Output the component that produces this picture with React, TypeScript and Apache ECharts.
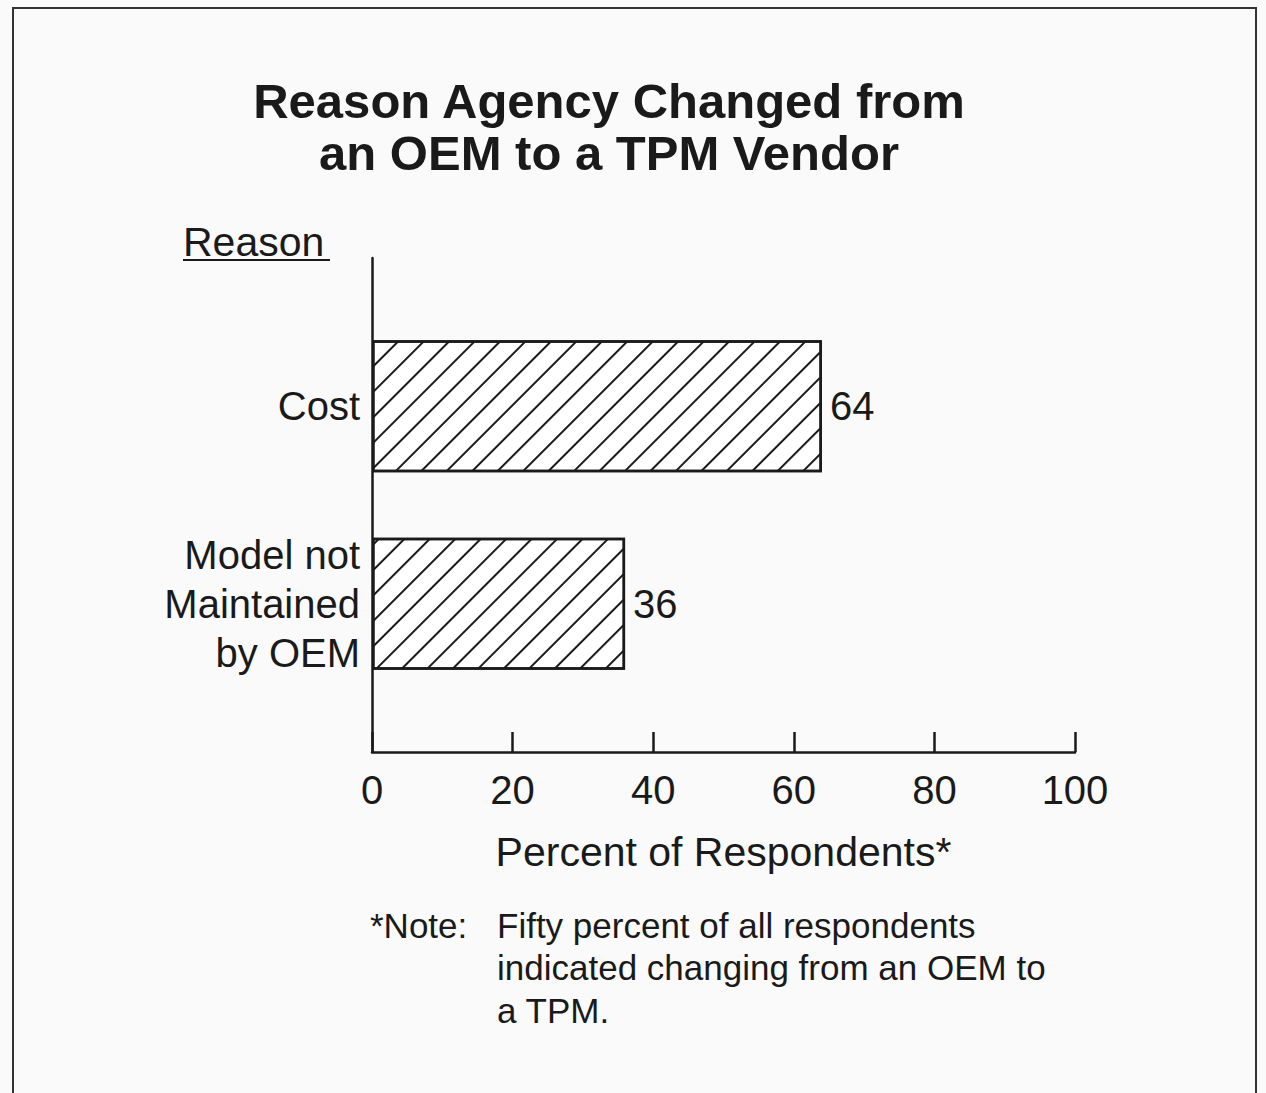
import React, { useEffect, useRef } from "react";
import * as echarts from "echarts";

const titleLines = ["Reason Agency Changed from", "an OEM to a TPM Vendor"];
const categories = ["Model not\nMaintained\nby OEM", "Cost"];
const values = [36, 64];
const xTicks = [0, 20, 40, 60, 80, 100];
const yAxisTitle = "Reason";
const xAxisTitle = "Percent of Respondents*";
const noteLabel = "*Note:";
const noteLines = [
  "Fifty percent of all respondents",
  "indicated changing from an OEM to",
  "a TPM.",
];

const FONT = "Liberation Sans, Arial, Helvetica, sans-serif";
const INK = "#1a1a1a";

export default function App() {
  const ref = useRef<HTMLDivElement>(null);
  useEffect(() => {
    if (!ref.current) return;
    const chart = echarts.init(ref.current, null, { renderer: "svg" });
    // Pad categories with empty slots so bars sit at the reference positions
    const slotCats: string[] = ["", categories[0], "", categories[1], ""];
    const slotVals: (number | null)[] = [null, values[0], null, values[1], null];

    const option: any = {
      animation: false,
      backgroundColor: "#fafafa",
      textStyle: { fontFamily: FONT, color: INK },
      title: {
        text: titleLines.join("\n"),
        left: 604,
        top: 70,
        textAlign: "center",
        textStyle: {
          fontFamily: FONT,
          fontSize: 49,
          fontWeight: "bold",
          color: INK,
          lineHeight: 52,
        },
      },
      grid: { left: 372, right: 191, top: 258, bottom: 341, containLabel: false },
      xAxis: {
        type: "value",
        min: xTicks[0],
        max: xTicks[xTicks.length - 1],
        interval: 20,
        axisLine: { show: true, lineStyle: { color: INK, width: 2.5 } },
        axisTick: { show: true, inside: true, length: 20, lineStyle: { color: INK, width: 2.5 } },
        splitLine: { show: false },
        axisLabel: { fontSize: 40, color: INK, margin: 18, fontFamily: FONT },
        name: xAxisTitle,
        nameLocation: "middle",
        nameGap: 79,
        nameTextStyle: { fontSize: 41, color: INK, fontFamily: FONT },
      },
      yAxis: {
        type: "category",
        data: slotCats,
        axisLine: { show: true, lineStyle: { color: INK, width: 2.5 } },
        axisTick: { show: false },
        splitLine: { show: false },
        axisLabel: {
          fontSize: 40,
          color: INK,
          margin: 12,
          lineHeight: 49,
          align: "right",
          fontFamily: FONT,
          interval: 0,
        },
      },
      series: [
        {
          type: "bar",
          data: slotVals,
          barWidth: 132,
          itemStyle: {
            color: "#ffffff",
            borderColor: INK,
            borderWidth: 2.5,
            decal: {
              symbol: "rect",
              symbolSize: 1,
              dashArrayX: [1, 0],
              dashArrayY: [2, 16],
              rotation: -Math.PI / 4,
              color: INK,
              backgroundColor: "#ffffff",
            },
          },
          label: {
            show: true,
            position: "right",
            distance: 8,
            fontSize: 40,
            color: INK,
            fontFamily: FONT,
          },
        },
      ],
      graphic: [
        {
          type: "polyline",
          shape: { points: [[13, 1093], [13, 8], [1256, 8], [1256, 1093]] },
          style: { stroke: "#333", lineWidth: 2, fill: "none" },
        },
        {
          type: "text",
          x: 183,
          y: 242,
          style: {
            text: yAxisTitle,
            fontSize: 41,
            fontFamily: FONT,
            fill: INK,
            verticalAlign: "middle",
          },
        },
        {
          type: "line",
          shape: { x1: 183, y1: 260, x2: 330, y2: 260 },
          style: { stroke: INK, lineWidth: 2 },
        },
        {
          type: "text",
          x: 370,
          y: 925,
          style: {
            text: noteLabel,
            fontSize: 35,
            fontFamily: FONT,
            fill: INK,
            verticalAlign: "middle",
          },
        },
        {
          type: "text",
          x: 497,
          y: 904,
          style: {
            text: noteLines.join("\n"),
            fontSize: 35,
            lineHeight: 42.5,
            fontFamily: FONT,
            fill: INK,
            verticalAlign: "top",
          },
        },
      ],
    };
    chart.setOption(option);
    return () => chart.dispose();
  }, []);
  return (
    <div
      ref={ref}
      style={{ position: "absolute", left: 0, top: 0, width: 1266, height: 1093 }}
    />
  );
}
